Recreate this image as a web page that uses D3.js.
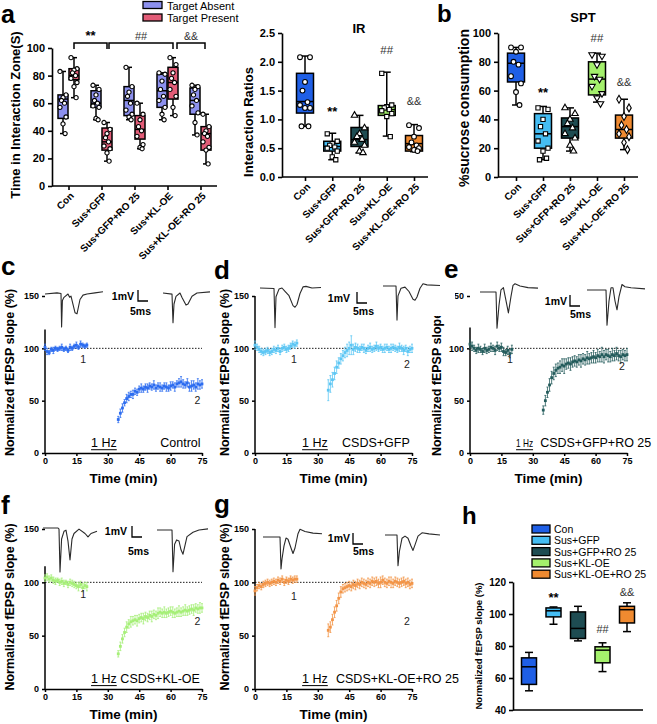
<!DOCTYPE html>
<html>
<head>
<meta charset="utf-8">
<script src="https://cdn.jsdelivr.net/npm/d3@7"></script>
<style>
html,body{margin:0;padding:0;background:#fff;}
svg{display:block;}
</style>
</head>
<body>
<svg id="fig" width="657" height="724"></svg>
<script>
const FONT = "'Liberation Sans', Arial, Helvetica, sans-serif";

// ================= DATA =================
const categories = ["Con","Sus+GFP","Sus+GFP+RO 25","Sus+KL-OE","Sus+KL-OE+RO 25"];
const groupColors = ["#1f5fe6","#45bdf3","#1e4c52","#a4f06c","#f08a30"];
const ltdColors   = ["#2c6cf0","#5cc6f4","#245c5c","#a6ef78","#f39548"];
const seriesA = ["Target Absent","Target Present"];
const seriesAColors = ["#8c90ee","#e25c77"];

// panel a : [min, q1, median, q3, max]
const aTicks = [0,20,40,60,80,100];
const aAbsentStats  = [[38,49,63,66,83],[48,57,60,69,73],[48,51,62,72,86],[48,57,69,81,82],[37,52,62,71,73]];
const aPresentStats = [[64,77,80,85,93],[18,26,32,42,46],[27,34,41,51,60],[51,63,75,86,93],[16,26,38,43,52]];
const aAbsentPoints = [[83,66,64,62,60,57,50,45,38],[73,70,66,62,60,58,57,49,48],[86,72,68,65,60,55,52,50,48],[82,81,76,70,65,62,57,52,48],[73,72,70,66,62,58,53,46,37]];
const aPresentPoints = [[93,85,84,82,80,78,75,72,64],[46,41,38,35,32,29,27,24,18],[60,52,48,43,40,36,30,28,27],[93,88,82,78,75,70,65,57,51],[52,43,40,38,36,32,28,26,16]];

// IR
const irTicks = [0,0.5,1,1.5,2,2.5];
const irStats = [[0.88,1.11,1.31,1.80,2.10],[0.30,0.45,0.53,0.62,0.76],[0.42,0.53,0.65,0.86,1.07],[0.71,1.07,1.17,1.24,1.82],[0.44,0.45,0.58,0.72,0.91]];
const irPoints = [[2.08,2.08,1.65,1.5,1.3,1.25,1.2,1.2,0.88,0.88],[0.75,0.62,0.58,0.55,0.52,0.5,0.45,0.35,0.3],[1.07,0.85,0.75,0.7,0.65,0.6,0.55,0.45,0.42],[1.8,1.25,1.22,1.2,1.17,1.15,1.1,1.05,0.7],[0.9,0.85,0.7,0.6,0.55,0.52,0.5,0.47,0.45]];

// SPT
const sptTicks = [0,20,40,60,80,100];
const sptStats = [[50,66,79,86,90],[12,20,30,44,49],[18,27,35,41,48],[52,57,68,80,86],[19,27,33,43,54]];
const sptPoints = [[90,90,87,80,78,70,65,59,50],[48,47,40,35,30,25,20,18,13,12],[48,44,40,37,34,30,27,22,18],[85,84,78,70,68,63,58,55,51],[54,48,42,36,33,30,28,24,19]];

// h
const hTicks = [40,60,80,100,120];
const hStats = [[52,56,67,72.6,76],[93.6,98.2,102,103.8,104.4],[83.2,84.7,91,101.3,104.8],[64,69.5,77.4,79.5,82],[89,94.4,102.7,104.8,107]];

// LTD time courses (min) and normalized fEPSP slope (%)
const ltdXTicks = [0,15,30,45,60,75];
const ltdYTicks = [0,50,100,150];
const ltdTimeBase = [0,1,2,3,4,5,6,7,8,9,10,11,12,13,14,15,16,17,18,19,20];
const ltdTimePost = [35,36,37,38,39,40,41,42,43,44,45,46,47,48,49,50,51,52,53,54,55,56,57,58,59,60,61,62,63,64,65,66,67,68,69,70,71,72,73,74,75];

const cBase = [101,97,96,99,98,100,99,100,101,99,100,98,101,100,102,103,101,104,103,102,103];
const cBaseErr = [3,3,2,2,3,2,2,2,3,2,2,2,3,2,2,3,2,3,2,2,2];
const cPost = [32,38,43,48,52,54,56,56,59,58,61,62,61,63,62,64,63,65,62,64,63,62,64,63,62,64,65,63,66,67,68,66,65,67,63,64,65,63,66,65,66];
const cPostErr = [3,4,4,3,4,4,3,4,3,3,3,4,3,3,4,3,3,4,3,3,4,3,3,4,3,4,3,4,3,4,5,4,3,4,4,5,4,4,5,4,4];

const dBase = [103,101,99,97,96,97,98,96,97,99,98,100,97,100,101,99,100,102,104,103,105];
const dBaseErr = [4,3,3,3,3,3,3,3,3,3,3,3,3,3,3,3,3,3,3,3,3];
const dPost = [60,66,70,76,82,86,90,93,96,98,100,103,99,101,100,99,101,100,98,100,101,99,100,102,100,101,99,100,101,99,100,101,100,99,101,100,98,100,97,99,100];
const dPostErr = [10,8,7,6,6,5,5,5,5,6,6,9,5,4,4,3,3,4,3,3,4,3,3,4,3,3,3,4,3,3,4,3,3,3,4,3,4,3,4,3,4];

const eBase = [104,102,100,98,100,99,97,100,98,99,101,100,98,102,100,101,97,96,98,95,99];
const eBaseErr = [4,4,3,3,4,3,3,4,3,3,4,3,4,4,3,4,4,3,4,4,4];
const ePost = [41,50,58,65,72,76,79,81,82,84,83,85,86,85,87,88,87,89,88,90,89,91,90,91,92,91,93,92,94,92,94,93,92,94,93,95,93,92,94,93,94];
const ePostErr = [4,5,5,6,6,6,6,5,6,6,7,5,5,6,5,5,5,5,6,5,5,6,5,5,6,5,6,5,7,6,5,6,5,6,5,6,5,6,5,5,6];

const fBase = [104,105,103,104,102,101,102,100,101,99,100,98,100,99,98,97,96,98,95,97,96];
const fBaseErr = [3,3,3,3,3,3,2,3,3,3,2,3,3,3,3,3,4,3,4,3,4];
const fPost = [33,40,47,53,58,61,63,64,65,64,66,67,66,68,67,69,68,70,69,71,72,71,72,71,72,73,72,71,72,73,72,73,74,73,74,75,74,76,75,76,76];
const fPostErr = [3,4,4,4,5,4,5,4,4,5,4,4,5,4,4,4,5,4,4,5,4,4,5,4,4,4,5,4,4,5,4,4,5,4,4,4,5,4,4,5,4];

const gBase = [92,95,97,96,98,99,100,99,100,101,100,102,101,103,100,102,101,103,102,103,103];
const gBaseErr = [4,3,3,3,3,3,3,3,3,3,3,3,3,3,3,3,3,3,3,3,3];
const gPost = [55,58,65,72,78,85,91,94,95,96,97,96,98,97,99,98,100,99,98,100,99,101,100,101,99,100,102,100,99,101,100,99,101,100,99,100,101,99,100,98,99];
const gPostErr = [6,5,5,5,5,5,5,4,4,4,4,4,4,4,4,4,4,4,4,4,4,4,4,4,4,5,4,4,4,4,5,4,4,4,4,4,4,4,4,4,4];

// example fEPSP traces: [ms, mV]
const traceC1 = [[0,0],[6,0.1],[8,0.05],[8.3,-3.0],[8.7,-0.6],[9.5,-0.3],[11.5,0],[12.3,-0.3],[13,-0.2],[15,-1.7],[16,-1.8],[17.5,-0.5],[19,-0.1],[21,0],[25,0.1],[29,0.2]];
const traceC2 = [[0,0],[4.5,-0.1],[5,-2.7],[5.5,-1.0],[6.5,-0.3],[8.5,0],[9.5,-0.4],[11.5,-1.1],[12.5,-1.0],[14.5,-0.3],[17,0],[23.5,0.1]];
const traceD1 = [[0,0],[7,-0.05],[7.5,-3.6],[8,-0.8],[9.5,-0.1],[11,0],[12.5,-0.3],[14.5,-0.7],[16.5,-1.6],[17.5,-1.75],[18.5,-1.5],[20,-0.5],[21.5,0.1],[23,0.15],[26,0],[30.5,0.05]];
const traceD2 = [[0,0],[6.5,0],[7,-3.1],[7.5,-0.9],[9,-0.2],[11,-0.1],[13,-0.5],[15,-1.2],[16,-1.3],[17,-1.0],[18.5,-0.2],[20,0.2],[22,0.1],[28.5,0.05]];
const traceE1 = [[0,0],[8,0],[8.5,-3.3],[9.5,-1.2],[10.5,0.2],[11.7,0.4],[12.8,-0.6],[14.2,-1.9],[15.5,-0.4],[16.5,0.6],[17.5,0.75],[20,0.55],[24,0.4],[29,0.35]];
const traceE2 = [[0,0],[9.5,0],[10,-3.2],[11,-1.0],[12,0.2],[13,0.2],[14,-1.0],[15,-1.8],[16,-0.6],[17.5,0.5],[19,0.3],[22,0.2],[29,0.1]];
const traceF1 = [[0,0],[7.5,0],[8,-0.1],[8.5,-4.0],[9.3,-1.0],[10.5,-0.3],[11.5,-0.2],[12.5,-1.2],[13.5,-2.9],[14.5,-1.0],[15.5,-0.5],[18,-0.1],[21,-0.5],[22.5,-0.8],[24,-0.5],[27,-0.3]];
const traceF2 = [[0,0],[7.5,0],[8,-3.8],[8.8,-1.3],[9.8,-0.9],[11,-1.0],[12,-1.8],[13,-2.2],[14,-1.4],[15,-0.6],[18,-0.2],[21,0],[25.5,0.1]];
const traceG1 = [[0,0],[8.5,0],[9,-2.9],[9.5,-2.0],[10.5,-0.8],[11.5,-0.1],[12.5,-0.2],[14,-1.0],[15,-1.5],[16,-1.0],[17.5,0.3],[18.5,0.7],[21,0.5],[25,0.35],[29.5,0.3]];
const traceG2 = [[0,0],[6,0],[6.5,-2.8],[7.2,-1.5],[8.5,-0.3],[10,-0.1],[11.5,-0.3],[13,-1.0],[14,-1.4],[15,-0.9],[16.5,-0.1],[18.5,0.2],[22,0.1],[27.5,0]];

// ================= DRAWING =================
const svg = d3.select("#fig").attr("font-family", FONT);
svg.append("rect").attr("width",657).attr("height",724).attr("fill","#fff");

function styleAxis(g, fs, sw) {
  g.attr("font-family", FONT).attr("font-size", fs);
  g.selectAll(".domain").attr("stroke","#000").attr("stroke-width", sw);
  g.selectAll(".tick line").attr("stroke","#000").attr("stroke-width", sw);
  g.selectAll(".tick text").attr("fill","#000").attr("font-weight","bold");
}
function vText(x, y, txt, fs, weight) {
  svg.append("text").attr("transform",`translate(${x},${y}) rotate(-90)`)
    .attr("text-anchor","middle").attr("font-size",fs).attr("font-weight",weight||"bold").text(txt);
}
function text(x, y, txt, fs, opts) {
  opts = opts || {};
  return svg.append("text").attr("x",x).attr("y",y).attr("font-size",fs)
    .attr("font-weight",opts.weight||"normal").attr("text-anchor",opts.anchor||"start")
    .attr("fill",opts.fill||"#000").text(txt);
}

const symbolTypes = [d3.symbolCircle, d3.symbolSquare, d3.symbolTriangle, d3.symbolTriangle, d3.symbolDiamond];
const symbolRot = [0,0,0,180,0];
const jitter = [-1, 1, 0, -0.5, 0.5, -1, 1, 0, 0.7, -0.7];

function boxAxes(cfg) {
  const y = d3.scaleLinear(cfg.domain, [cfg.yBottom, cfg.yTop]);
  const x = d3.scalePoint(categories, [cfg.xFirst, cfg.xLast]);
  const gy = svg.append("g").attr("transform",`translate(${cfg.axisX},0)`)
    .call(d3.axisLeft(y).tickValues(cfg.ticks).tickFormat(cfg.fmt).tickSize(4).tickSizeOuter(0));
  styleAxis(gy, cfg.tickFont, 1.6);
  svg.append("line").attr("x1",cfg.axisX).attr("x2",cfg.axisRight)
    .attr("y1",cfg.yBottom).attr("y2",cfg.yBottom).attr("stroke","#000").attr("stroke-width",1.6);
  if (cfg.xLabels) {
    const gx = svg.append("g").attr("transform",`translate(0,${cfg.yBottom})`)
      .call(d3.axisBottom(x).tickSize(4).tickSizeOuter(0));
    gx.select(".domain").remove();
    styleAxis(gx, 10, 1.6);
    gx.selectAll(".tick text").attr("x",0).attr("y",0).attr("dy","0.35em")
      .attr("transform","translate(3,8) rotate(-45)").attr("text-anchor","end");
  }
  return {x, y};
}

function drawBox(xc, w, st, y, fill, capW) {
  const [mn,q1,md,q3,mx] = st;
  const g = svg.append("g").attr("stroke","#000").attr("stroke-width",1.5);
  g.append("line").attr("x1",xc).attr("x2",xc).attr("y1",y(mx)).attr("y2",y(mn));
  g.append("line").attr("x1",xc-capW).attr("x2",xc+capW).attr("y1",y(mx)).attr("y2",y(mx));
  g.append("line").attr("x1",xc-capW).attr("x2",xc+capW).attr("y1",y(mn)).attr("y2",y(mn));
  g.append("rect").attr("x",xc-w/2).attr("y",y(q3)).attr("width",w).attr("height",y(q1)-y(q3)).attr("fill",fill);
  g.append("line").attr("x1",xc-w/2).attr("x2",xc+w/2).attr("y1",y(md)).attr("y2",y(md));
}
function drawPoints(xc, spread, vals, y, symIdx, size) {
  const sym = d3.symbol().type(symbolTypes[symIdx]).size(size);
  svg.append("g").selectAll("path").data(vals).join("path")
    .attr("d", sym)
    .attr("transform",(d,i)=>`translate(${xc + jitter[i%jitter.length]*spread},${y(d)}) rotate(${symbolRot[symIdx]})`)
    .attr("fill","#fff").attr("stroke","#000").attr("stroke-width",1.1);
}

// ---------- Panel a ----------
{
  const {x,y} = boxAxes({domain:[0,100], yBottom:186, yTop:48, axisX:52, axisRight:217,
    xFirst:68.5, xLast:200.5, ticks:aTicks, fmt:d3.format("d"), tickFont:11, xLabels:true});
  categories.forEach((c,i)=>{
    const xc = x(c);
    drawBox(xc-5.5, 10, aAbsentStats[i], y, seriesAColors[0], 3);
    drawBox(xc+5.5, 10, aPresentStats[i], y, seriesAColors[1], 3);
    drawPoints(xc-5.5, 3, aAbsentPoints[i], y, 0, 14);
    drawPoints(xc+5.5, 3, aPresentPoints[i], y, 0, 14);
  });
  vText(20, 115, "Time in Interaction Zone(S)", 13);
  const br = [[74,107,"**","bold",13],[109,173,"##","normal",11],[177,205,"&&","normal",10.5]];
  br.forEach(b=>{
    svg.append("path").attr("d",`M${b[0]},49 V43 H${b[1]} V49`).attr("fill","none").attr("stroke","#000").attr("stroke-width",1.5);
    text((b[0]+b[1])/2, 40, b[2], b[4], {anchor:"middle", weight:b[3], fill: b[3]==="bold"?"#000":"#333"});
  });
  seriesA.forEach((s,i)=>{
    svg.append("rect").attr("x",143).attr("y",1.5+i*12.5).attr("width",19).attr("height",7)
      .attr("fill",seriesAColors[i]).attr("stroke","#000").attr("stroke-width",1.3);
    text(167, 9.5+i*12.5, s, 11);
  });
  text(1, 22.5, "a", 25, {weight:"bold"});
}

// ---------- IR ----------
{
  const {x,y} = boxAxes({domain:[0,2.5], yBottom:177, yTop:33, axisX:282, axisRight:428,
    xFirst:305, xLast:414, ticks:irTicks, fmt:d3.format(".1f"), tickFont:11, xLabels:true});
  categories.forEach((c,i)=>{
    drawBox(x(c), 17, irStats[i], y, groupColors[i], 4);
    drawPoints(x(c), 5, irPoints[i], y, [0,1,2,1,0][i], 18);
  });
  vText(253, 122, "Interaction Ratios", 13);
  text(359, 33, "IR", 13, {anchor:"middle", weight:"bold"});
  text(x(categories[1]), 116, "**", 13, {anchor:"middle", weight:"bold"});
  text(x(categories[3]), 53.5, "##", 11.5, {anchor:"middle", fill:"#333"});
  text(x(categories[4]), 105, "&&", 11, {anchor:"middle", fill:"#333"});
}

// ---------- SPT ----------
{
  const {x,y} = boxAxes({domain:[0,100], yBottom:177, yTop:33, axisX:498, axisRight:638,
    xFirst:516, xLast:624, ticks:sptTicks, fmt:d3.format("d"), tickFont:11, xLabels:true});
  categories.forEach((c,i)=>{
    drawBox(x(c), 17, sptStats[i], y, groupColors[i], 4);
    drawPoints(x(c), 5, sptPoints[i], y, i, 18);
  });
  vText(469, 108, "%sucrose consumption", 14);
  text(583, 22, "SPT", 13, {anchor:"middle", weight:"bold"});
  text(x(categories[1]), 97, "**", 13, {anchor:"middle", weight:"bold"});
  text(x(categories[3]), 42, "##", 11.5, {anchor:"middle", fill:"#333"});
  text(x(categories[4]), 86, "&&", 11, {anchor:"middle", fill:"#333"});
  text(437, 22, "b", 24, {weight:"bold"});
}

// ---------- LTD panels ----------
const ltdPanels = [
  {letter:"c", lx:1, ly:275, base:cBase, baseErr:cBaseErr, post:cPost, postErr:cPostErr, color:ltdColors[0],
   x0:45, x1:202, y0:453, y150:296, axisTop:118, label:"Control", labelAnchor:"end", labelT:74.3, hzT:22,
   n1:[18.2,86], n2:[72.8,47], titleX:14, traces:[[traceC1,45,294],[traceC2,163,293]],
   bar:{x:138, top:290, t1:134, t1y:300, t2x:130, t2y:315}},
  {letter:"d", lx:214, ly:279, base:dBase, baseErr:dBaseErr, post:dPost, postErr:dPostErr, color:ltdColors[1],
   x0:255, x1:412, y0:453, y150:296, axisTop:150, label:"CSDS+GFP", labelAnchor:"start", labelT:41.6, hzT:22.5,
   n1:[18.6,86], n2:[72.6,81], titleX:229, traces:[[traceD1,260,288],[traceD2,383,286]],
   bar:{x:357, top:292, t1:350, t1y:302, t2x:353, t2y:315}, cover:[380,281,75,35]},
  {letter:"e", lx:444, ly:278, base:eBase, baseErr:eBaseErr, post:ePost, postErr:ePostErr, color:ltdColors[2],
   x0:470, x1:627, y0:453, y150:296, axisTop:120, label:"CSDS+GFP+RO 25", labelAnchor:"start", labelT:33.5, hzT:22, hzLen:17,
   n1:[19.1,86], n2:[72.6,79.5], titleX:441, traces:[[traceE1,480,292],[traceE2,587,290]],
   bar:{x:570, top:295, t1:567, t1y:305, t2x:570, t2y:318}},
  {letter:"f", lx:1, ly:514, base:fBase, baseErr:fBaseErr, post:fPost, postErr:fPostErr, color:ltdColors[3],
   x0:45, x1:202, y0:689, y150:529, axisTop:115, label:"CSDS+KL-OE", labelAnchor:"start", labelT:36, hzT:22,
   n1:[18.2,85], n2:[72.8,60], titleX:14, traces:[[traceF1,43,528],[traceF2,157,530]],
   bar:{x:132, top:526, t1:127, t1y:535, t2x:128, t2y:555}},
  {letter:"g", lx:214, ly:513, base:gBase, baseErr:gBaseErr, post:gPost, postErr:gPostErr, color:ltdColors[4],
   x0:255, x1:412, y0:689, y150:529, axisTop:150, label:"CSDS+KL-OE+RO 25", labelAnchor:"start", labelT:38.7, hzT:22.5,
   n1:[18.6,83], n2:[72.6,60], titleX:229, traces:[[traceG1,263,537],[traceG2,385,535]],
   bar:{x:353, top:533, t1:350, t1y:542, t2x:353, t2y:555}}
];

const traceX = d3.scaleLinear([0,5],[0,10]);   // 5 ms -> 10 px
const traceY = d3.scaleLinear([0,1],[0,-11]);  // 1 mV -> 11 px

// pass 1: axes, data and labels
ltdPanels.forEach(p=>{
  const x = d3.scaleLinear([0,75],[p.x0,p.x1]);
  const y = d3.scaleLinear([0,150],[p.y0,p.y150]);
  const gy = svg.append("g").attr("transform",`translate(${p.x0},0)`)
    .call(d3.axisLeft(y).tickValues(ltdYTicks).tickSize(3).tickSizeOuter(0));
  gy.select(".domain").remove();
  styleAxis(gy, 9, 1.5);
  svg.append("line").attr("x1",p.x0).attr("x2",p.x0).attr("y1",y(0)).attr("y2",y(p.axisTop))
    .attr("stroke","#000").attr("stroke-width",1.5);
  const gx = svg.append("g").attr("transform",`translate(0,${y(0)})`)
    .call(d3.axisBottom(x).tickValues(ltdXTicks).tickSize(3).tickSizeOuter(0).tickPadding(2));
  styleAxis(gx, 9, 1.5);
  vText(p.titleX, (y(0)+y(150))/2 - 2, "Normalized fEPSP slope (%)", 12.5);
  text((p.x0+p.x1)/2, y(0)+30, "Time (min)", 13.5, {anchor:"middle", weight:"bold"});
  svg.append("line").attr("x1",x(0)).attr("x2",x(75)).attr("y1",y(100)).attr("y2",y(100))
    .attr("stroke","#000").attr("stroke-width",0.9).attr("stroke-dasharray","1.5,1.5");
  const pts = ltdTimeBase.map((t,i)=>({t, v:p.base[i], e:p.baseErr[i]}))
    .concat(ltdTimePost.map((t,i)=>({t, v:p.post[i], e:p.postErr[i]})));
  const g = svg.append("g");
  g.selectAll("path.err").data(pts).join("path").attr("class","err")
    .attr("d",d=>`M${x(d.t)},${y(d.v-d.e)}V${y(d.v+d.e)}M${x(d.t)-1},${y(d.v-d.e)}h2M${x(d.t)-1},${y(d.v+d.e)}h2`)
    .attr("stroke",p.color).attr("stroke-width",0.8).attr("fill","none");
  g.selectAll("rect").data(pts).join("rect")
    .attr("x",d=>x(d.t)-1.4).attr("y",d=>y(d.v)-1.4).attr("width",2.8).attr("height",2.8)
    .attr("fill",p.color);
  text(x(p.n1[0]), y(p.n1[1]), "1", 10.5, {anchor:"middle", fill:"#222"});
  text(x(p.n2[0]), y(p.n2[1]), "2", 10.5, {anchor:"middle", fill:"#222"});
  const hz = text(x(p.hzT), y(6), "1 Hz", p.hzLen ? 11 : 12.5);
  if (p.hzLen) hz.attr("textLength", p.hzLen).attr("lengthAdjust","spacingAndGlyphs");
  const hzW = p.hzLen || hz.node().getComputedTextLength();
  svg.append("line").attr("x1",x(p.hzT)).attr("x2",x(p.hzT)+hzW).attr("y1",y(6)+3).attr("y2",y(6)+3)
    .attr("stroke","#000").attr("stroke-width",1);
  text(x(p.labelT), y(6), p.label, 12.5, {anchor:p.labelAnchor});
  text(p.lx, p.ly, p.letter, 26, {weight:"bold"});
});

// pass 2: example trace insets (white background over neighbours) and scale bars
ltdPanels.forEach(p=>{
  if (p.cover) svg.append("rect").attr("x",p.cover[0]).attr("y",p.cover[1]).attr("width",p.cover[2]).attr("height",p.cover[3]).attr("fill","#fff");
  p.traces.forEach(([tr, ox, oy])=>{
    svg.append("path").datum(tr)
      .attr("d", d3.line().x(d=>ox+traceX(d[0])).y(d=>oy+traceY(d[1])))
      .attr("fill","none").attr("stroke","#2a2a2a").attr("stroke-width",1.1).attr("stroke-linejoin","round");
  });
  const b = p.bar;
  svg.append("path").attr("d",`M${b.x},${b.top}V${b.top-traceY(1)}H${b.x+traceX(5)}`)
    .attr("fill","none").attr("stroke","#000").attr("stroke-width",1.3);
  text(b.t1, b.t1y, "1mV", 10.5, {anchor:"end", weight:"bold"});
  text(b.t2x, b.t2y, "5ms", 10.5, {weight:"bold"});
});

// ---------- Panel h ----------
{
  const {x,y} = boxAxes({domain:[40,120], yBottom:710, yTop:582, axisX:513, axisRight:643,
    xFirst:529, xLast:627, ticks:hTicks, fmt:d3.format("d"), tickFont:10, xLabels:false});
  categories.forEach((c,i)=>{
    drawBox(x(c), 15, hStats[i], y, groupColors[i], 4);
  });
  vText(482, 646, "Normalized fEPSP slope (%)", 9.5);
  text(x(categories[1]), 602, "**", 13, {anchor:"middle", weight:"bold"});
  text(x(categories[3]), 633, "##", 11, {anchor:"middle", fill:"#333"});
  text(x(categories[4]), 596, "&&", 11, {anchor:"middle", fill:"#333"});
  categories.forEach((c,i)=>{
    svg.append("rect").attr("x",532).attr("y",525+i*11.3).attr("width",18).attr("height",8)
      .attr("fill",groupColors[i]).attr("stroke","#000").attr("stroke-width",1.3);
    text(554, 533+i*11.3, c, 10.5);
  });
  text(462, 524, "h", 24, {weight:"bold"});
}
</script>
</body>
</html>
